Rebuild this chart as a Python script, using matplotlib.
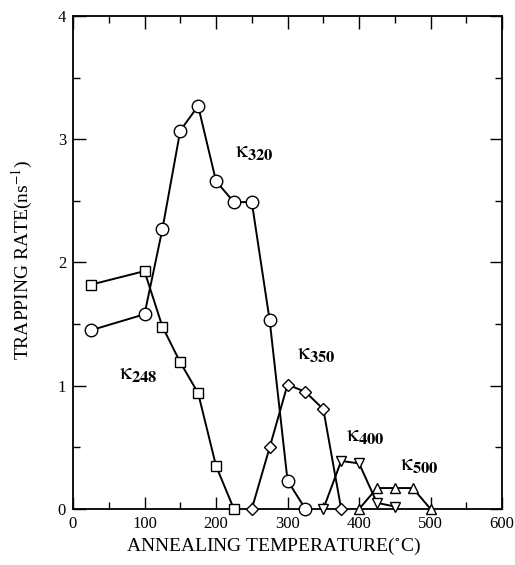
import matplotlib
matplotlib.use("Agg")
import matplotlib.pyplot as plt
from matplotlib.ticker import MultipleLocator

plt.rcParams["font.family"] = ["Liberation Serif", "DejaVu Serif"]
plt.rcParams["mathtext.fontset"] = "stix"

# kappa_248 (squares)
k248_t = [25, 100, 125, 150, 175, 200, 225]
k248_r = [1.82, 1.93, 1.48, 1.19, 0.94, 0.35, 0.0]

# kappa_320 (circles)
k320_t = [25, 100, 125, 150, 175, 200, 225, 250, 275, 300, 325]
k320_r = [1.45, 1.58, 2.27, 3.07, 3.27, 2.66, 2.49, 2.49, 1.53, 0.23, 0.0]

# kappa_350 (diamonds)
k350_t = [250, 275, 300, 325, 350, 375]
k350_r = [0.0, 0.50, 1.01, 0.95, 0.81, 0.0]

# kappa_400 (down triangles)
k400_t = [350, 375, 400, 425, 450]
k400_r = [0.0, 0.39, 0.37, 0.05, 0.02]

# kappa_500 (up triangles)
k500_t = [400, 425, 450, 475, 500]
k500_r = [0.0, 0.17, 0.17, 0.17, 0.0]

label_sub = ["248", "320", "350", "400", "500"]
label_pos = [(64, 1.09), (226, 2.89), (313, 1.25), (382, 0.59), (457, 0.35)]

fig = plt.figure(figsize=(5.15, 5.65), dpi=100)
ax = fig.add_axes([0.1417, 0.0991, 0.8333, 0.8726])

line_kw = dict(color="black", lw=1.4, markerfacecolor="white",
               markeredgecolor="black", markeredgewidth=1.0, clip_on=False, zorder=3)
ax.plot(k248_t, k248_r, marker="s", markersize=6.5, **line_kw)
ax.plot(k320_t, k320_r, marker="o", markersize=9, **line_kw)
ax.plot(k350_t, k350_r, marker="D", markersize=6, **line_kw)
ax.plot(k400_t, k400_r, marker="v", markersize=7.5, **line_kw)
ax.plot(k500_t, k500_r, marker="^", markersize=7.5, **line_kw)

for sub, (x, y) in zip(label_sub, label_pos):
    ax.text(x, y, "$\\mathrm{\u03ba}_{\\mathbf{" + sub + "}}$", fontsize=17,
            ha="left", va="center")

ax.set_xlim(0, 600)
ax.set_ylim(0, 4)
ax.xaxis.set_major_locator(MultipleLocator(100))
ax.xaxis.set_minor_locator(MultipleLocator(50))
ax.yaxis.set_major_locator(MultipleLocator(1))
ax.yaxis.set_minor_locator(MultipleLocator(0.5))
ax.tick_params(which="both", direction="in", top=True, right=True, width=1.0,
               labelsize=12, pad=5)
ax.tick_params(which="major", length=9)
ax.tick_params(which="minor", length=5)
for s in ax.spines.values():
    s.set_linewidth(1.3)

fig.text(0.043, 0.54, "TRAPPING RATE(ns$^{-1}$)", rotation=90, fontsize=14,
         ha="center", va="center")
fig.text(0.53, 0.032, "ANNEALING TEMPERATURE($^{\\circ}$C)", fontsize=14,
         ha="center", va="center")

fig.savefig("out.png", dpi=100)
